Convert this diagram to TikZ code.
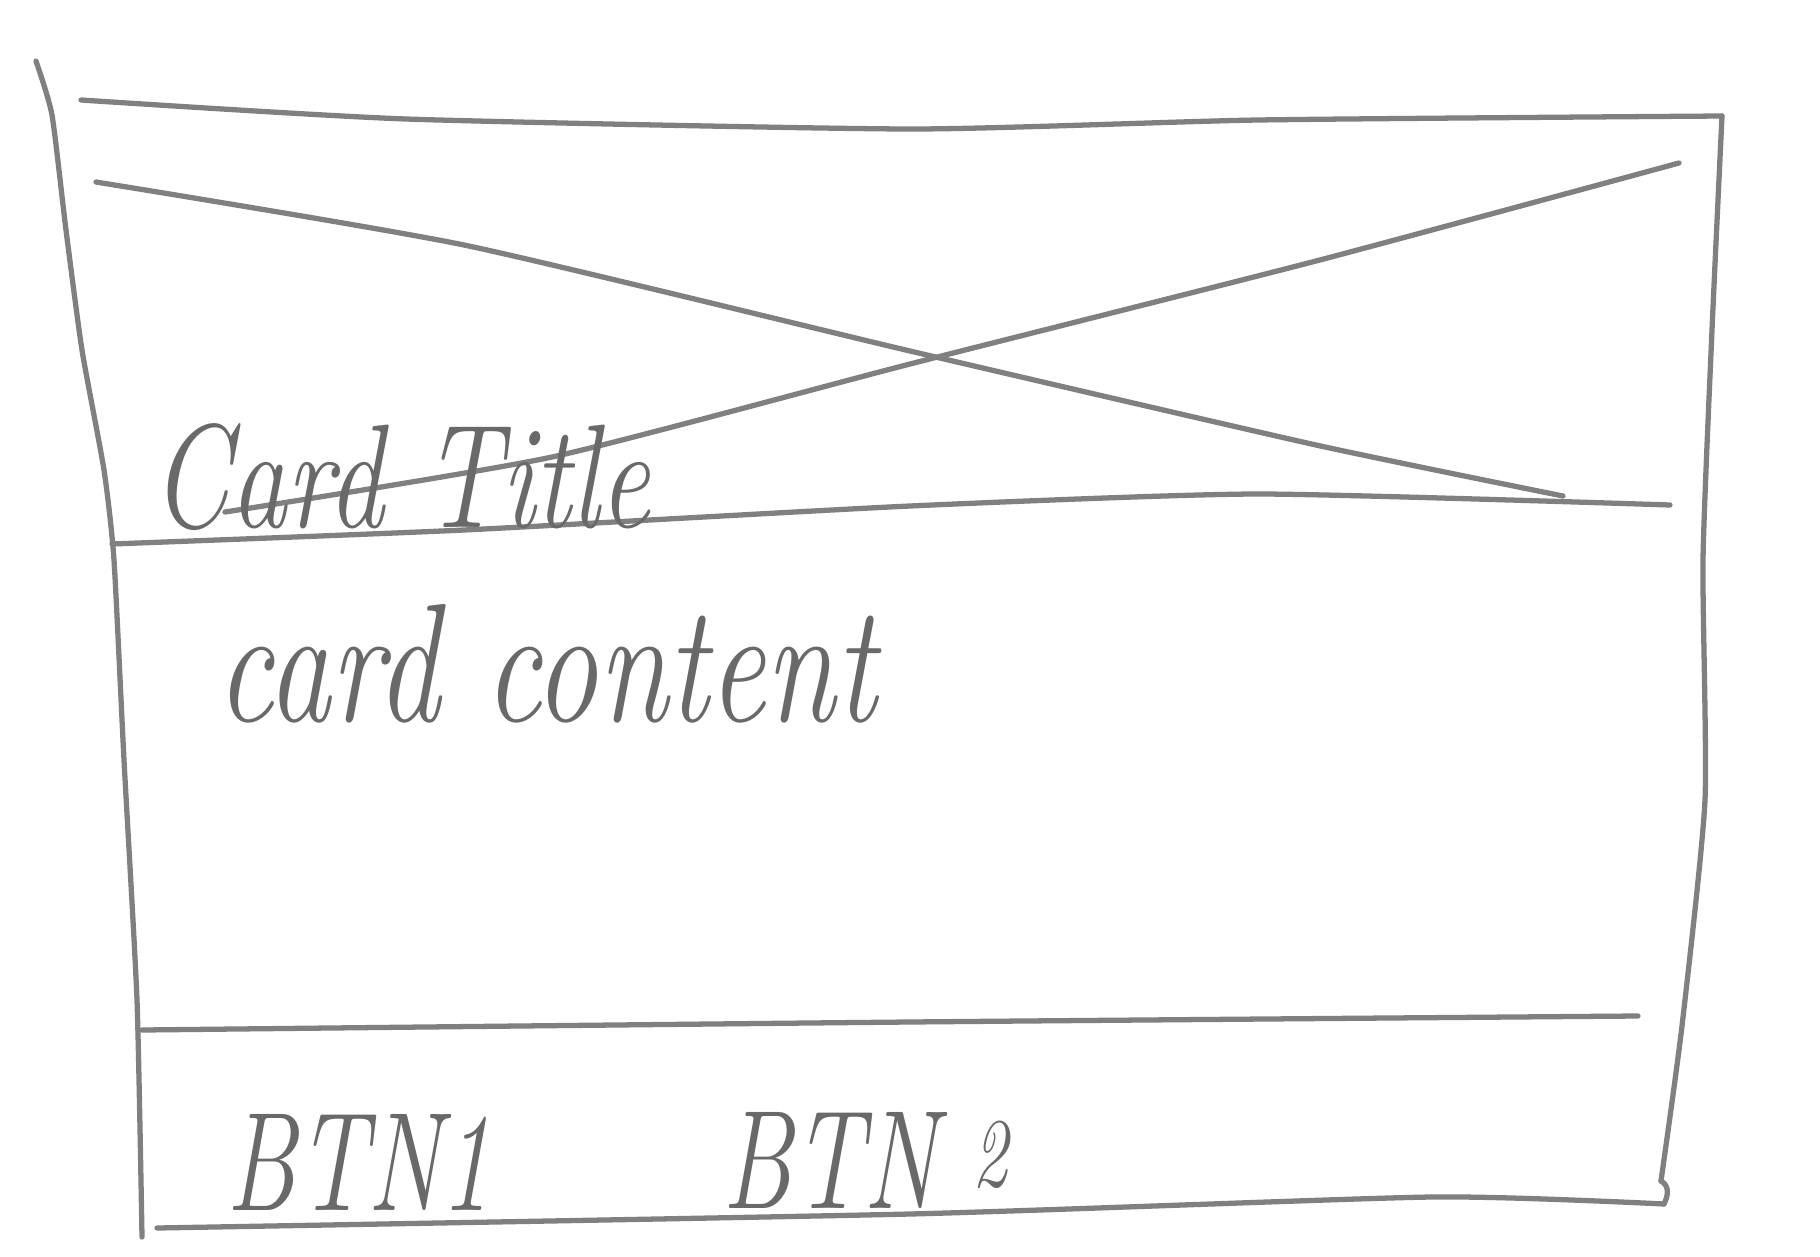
\documentclass[tikz,border=0pt]{standalone}
\usepackage{fontspec}
\definecolor{pencilgray}{RGB}{128,128,128}
\definecolor{textgray}{RGB}{105,105,105}
\begin{document}
\begin{tikzpicture}[x=0.01cm,y=-0.01cm,
  pencil/.style={draw=pencilgray, line width=1.5pt, line cap=round, line join=round},
  hand/.style={text=textgray, inner sep=0pt, anchor=base west}]
\useasboundingbox[fill=white] (0,0) rectangle (1820,1257);

% left edge of the card
\draw[pencil] plot[smooth, tension=0.35] coordinates {(36,61) (52,115) (66,230) (82,350) (104,470) (114,560) (124,760) (137,1000) (142,1237)};
% top edge
\draw[pencil] plot[smooth, tension=0.35] coordinates {(81,100) (406,119) (910,129) (1258,120) (1722,116)};
% right edge
\draw[pencil] plot[smooth, tension=0.35] coordinates {(1722,116) (1712,330) (1703,560) (1705,800) (1682,1026) (1661,1181)};
% bottom edge with the little hook
\draw[pencil] (1661,1181) .. controls (1670,1186) and (1668,1196) .. (1664,1204);
\draw[pencil] plot[smooth, tension=0.35] coordinates {(1664,1204) (1432,1197) (910,1214) (157,1228)};
% line under the title
\draw[pencil] plot[smooth, tension=0.35] coordinates {(112,544) (464,530) (910,506) (1258,494) (1670,505)};
% image placeholder cross
\draw[pencil] plot[smooth, tension=0.35] coordinates {(96,182) (464,245) (910,351) (1316,445) (1563,496)};
\draw[pencil] plot[smooth, tension=0.35] coordinates {(1679,163) (1316,261) (910,364) (552,457) (225,512)};
% footer line
\draw[pencil] plot[smooth, tension=0.35] coordinates {(142,1030) (910,1022) (1638,1016)};

% texts
\node[hand] (title) at (151,527) {\scalebox{0.76}[1]{\fontsize{42}{42}\selectfont\itshape Card Title}};
\node[hand] (content) at (216,721) {\scalebox{0.75}[1]{\fontsize{48}{48}\selectfont\itshape card content}};
\node[hand] (btn1) at (226,1210) {\scalebox{0.72}[1]{\fontsize{40}{40}\selectfont\itshape BTN1}};
\node[hand] (btn2) at (722,1208) {\scalebox{0.72}[1]{\fontsize{40}{40}\selectfont\itshape BTN\hspace{14pt}\raisebox{6pt}{\fontsize{28}{28}\selectfont 2}}};
\end{tikzpicture}
\end{document}
